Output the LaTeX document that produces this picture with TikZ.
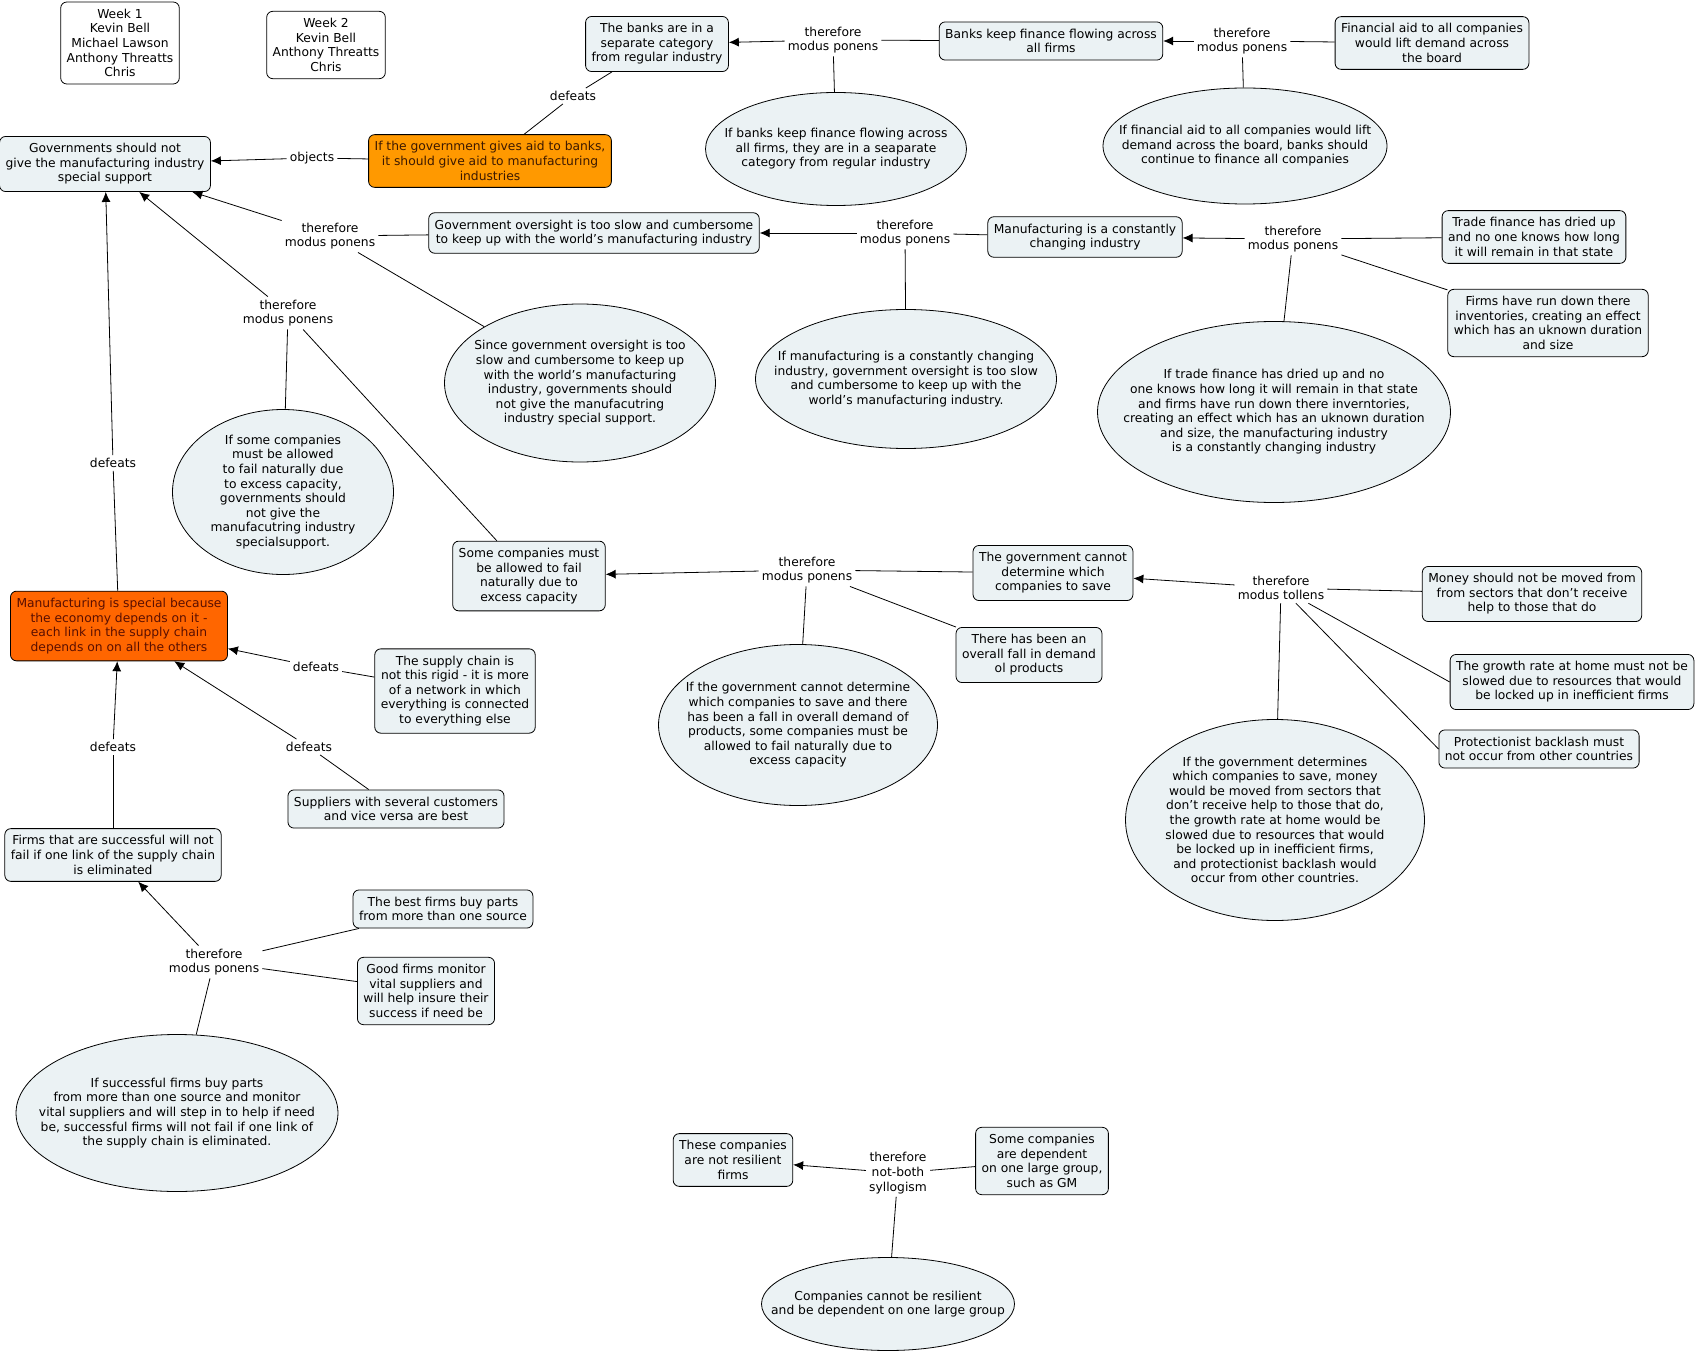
\documentclass[tikz,border=0pt]{standalone}
\usepackage{fontspec}
\setmainfont{DejaVu Sans}
\usetikzlibrary{shapes.geometric,arrows.meta}

\definecolor{boxfill}{RGB}{235,242,244}
\definecolor{aidorange}{RGB}{255,153,0}
\definecolor{hotorange}{RGB}{255,102,0}
\definecolor{aidtext}{RGB}{60,25,0}
\definecolor{hottext}{RGB}{90,15,0}

\tikzset{
	claim/.style={draw, rounded corners=6pt, fill=boxfill, align=center, inner xsep=6pt, inner ysep=7pt, line width=0.8pt},
	namebox/.style={claim, fill=white},
	reason/.style={draw, ellipse, fill=boxfill, line width=0.8pt},
	reasontext/.style={label={[align=center]center:#1}},
	link/.style={align=center, inner sep=3pt},
	infer/.style={-{Latex[length=10pt,width=9pt]}, line width=0.8pt},
	plain/.style={line width=0.8pt}
}

\begin{document}
\begin{tikzpicture}[x=1pt, y=-1pt, font=\fontsize{12.3}{14.6}\selectfont]

	\useasboundingbox (0, 0) rectangle (1698, 1351);

	\node (week1) [namebox] at (120, 43) {Week 1\\Kevin Bell\\Michael Lawson\\Anthony Threatts\\Chris};
	\node (week2) [namebox] at (326, 45) {Week 2\\Kevin Bell\\Anthony Threatts\\Chris};

	\node (banksep) [claim] at (657, 44) {The banks are in a\\separate category\\from regular industry};
	\node (mpA) [link] at (833, 40) {therefore\\modus ponens};
	\node (bankflow) [claim] at (1051, 41) {Banks keep finance flowing across\\all firms};
	\node (mpB) [link] at (1242, 41) {therefore\\modus ponens};
	\node (finaid) [claim] at (1432, 43) {Financial aid to all companies\\would lift demand across\\the board};
	\node (ebank) [reason, minimum width=261pt, minimum height=113pt, reasontext={If banks keep finance flowing across\\all firms, they are in a seaparate\\category from regular industry}] at (836, 149) {};
	\node (efin) [reason, minimum width=284pt, minimum height=116pt, reasontext={If financial aid to all companies would lift\\demand across the board, banks should\\continue to finance all companies}] at (1245, 146) {};

	\node (defA) [link] at (573, 96) {defeats};
	\node (govaid) [claim, fill=aidorange, text=aidtext] at (490, 161) {If the government gives aid to banks,\\it should give aid to manufacturing\\industries};
	\node (govnot) [claim] at (105, 164) {Governments should not\\give the manufacturing industry\\special support};
	\node (obj) [link] at (312, 158) {objects};

	\node (mpC) [link] at (330, 236) {therefore\\modus ponens};
	\node (oversight) [claim] at (594, 233) {Government oversight is too slow and cumbersome\\to keep up with the world's manufacturing industry};
	\node (mpD) [link] at (905, 233) {therefore\\modus ponens};
	\node (changing) [claim] at (1085, 237) {Manufacturing is a constantly\\changing industry};
	\node (mpE) [link] at (1293, 239) {therefore\\modus ponens};
	\node (trade) [claim] at (1534, 237) {Trade finance has dried up\\and no one knows how long\\it will remain in that state};
	\node (rundown) [claim] at (1548, 323) {Firms have run down there\\inventories, creating an effect\\which has an uknown duration\\and size};
	\node (etrade) [reason, minimum width=353pt, minimum height=181pt, reasontext={If trade finance has dried up and no\\one knows how long it will remain in that state\\and firms have run down there inverntories,\\creating an effect which has an uknown duration\\and size, the manufacturing industry\\is a constantly changing industry}] at (1274, 412) {};
	\node (echange) [reason, minimum width=301pt, minimum height=139pt, reasontext={If manufacturing is a constantly changing\\industry, government oversight is too slow\\and cumbersome to keep up with the\\world's manufacturing industry.}] at (906, 379) {};
	\node (esince) [reason, minimum width=271pt, minimum height=158pt, reasontext={Since government oversight is too\\slow and cumbersome to keep up\\with the world's manufacturing\\industry, governments should\\not give the manufacutring\\industry special support.}] at (580, 383) {};

	\node (mpF) [link] at (288, 313) {therefore\\modus ponens};
	\node (esome) [reason, minimum width=221pt, minimum height=165pt, reasontext={If some companies\\must be allowed\\to fail naturally due\\to excess capacity,\\governments should\\not give the\\manufacutring industry\\specialsupport.}] at (283, 492) {};
	\node (somefail) [claim] at (529, 576) {Some companies must\\be allowed to fail\\naturally due to\\excess capacity};
	\node (mpG) [link] at (807, 570) {therefore\\modus ponens};
	\node (cannot) [claim] at (1053, 573) {The government cannot\\determine which\\companies to save};
	\node (fall) [claim] at (1029, 655) {There has been an\\overall fall in demand\\ol products};
	\node (ecannot) [reason, minimum width=279pt, minimum height=161pt, reasontext={If the government cannot determine\\which companies to save and there\\has been a fall in overall demand of\\products, some companies must be\\allowed to fail naturally due to\\excess capacity}] at (798, 725) {};

	\node (mt) [link] at (1281, 588) {therefore\\modus tollens};
	\node (money) [claim] at (1532, 594) {Money should not be moved from\\from sectors that don't receive\\help to those that do};
	\node (growth) [claim] at (1572, 682) {The growth rate at home must not be\\slowed due to resources that would\\be locked up in inefficient firms};
	\node (protect) [claim] at (1539, 749) {Protectionist backlash must\\not occur from other countries};
	\node (edeterm) [reason, minimum width=299pt, minimum height=201pt, reasontext={If the government determines\\which companies to save, money\\would be moved from sectors that\\don't receive help to those that do,\\the growth rate at home would be\\slowed due to resources that would\\be locked up in inefficient firms,\\and protectionist backlash would\\occur from other countries.}] at (1275, 820) {};

	\node (special) [claim, fill=hotorange, text=hottext] at (119, 626) {Manufacturing is special because\\the economy depends on it -\\each link in the supply chain\\depends on on all the others};
	\node (defB) [link] at (113, 463) {defeats};
	\node (defC) [link] at (316, 667) {defeats};
	\node (chain) [claim] at (455, 691) {The supply chain is\\not this rigid - it is more\\of a network in which\\everything is connected\\to everything else};
	\node (defD) [link] at (309, 747) {defeats};
	\node (suppliers) [claim] at (396, 809) {Suppliers with several customers\\and vice versa are best};
	\node (defE) [link] at (113, 747) {defeats};
	\node (successful) [claim] at (113, 855) {Firms that are successful will not\\fail if one link of the supply chain\\is eliminated};

	\node (mpH) [link] at (214, 962) {therefore\\modus ponens};
	\node (bestfirms) [claim] at (443, 909) {The best firms buy parts\\from more than one source};
	\node (goodfirms) [claim] at (426, 991) {Good firms monitor\\vital suppliers and\\will help insure their\\success if need be};
	\node (esucc) [reason, minimum width=322pt, minimum height=157pt, reasontext={If successful firms buy parts\\from more than one source and monitor\\vital suppliers and will step in to help if need\\be, successful firms will not fail if one link of\\the supply chain is eliminated.}] at (177, 1113) {};

	\node (notres) [claim] at (733, 1160) {These companies\\are not resilient\\firms};
	\node (nb) [link] at (898, 1173) {therefore\\not-both\\syllogism};
	\node (dependent) [claim] at (1042, 1161) {Some companies\\are dependent\\on one large group,\\such as GM};
	\node (eresil) [reason, minimum width=253pt, minimum height=93pt, reasontext={Companies cannot be resilient\\and be dependent on one large group}] at (888, 1304) {};

	\path[plain]
	(bankflow) edge (mpA)
	(mpA) edge (ebank)
	(finaid) edge (mpB)
	(mpB) edge (efin)
	(banksep) edge (defA)
	(defA) edge (govaid)
	(govaid) edge (obj)
	(oversight) edge (mpC)
	(mpC) edge (esince)
	(changing) edge (mpD)
	(mpD) edge (echange)
	(trade) edge (mpE)
	(rundown) edge (mpE)
	(mpE) edge (etrade)
	(somefail) edge (mpF)
	(esome) edge (mpF)
	(cannot) edge (mpG)
	(fall) edge (mpG)
	(ecannot) edge (mpG)
	(money) edge (mt)
	(growth.west) edge (mt)
	(protect.west) edge (mt)
	(edeterm) edge (mt)
	(special) edge (defB)
	(chain) edge (defC)
	(suppliers) edge (defD)
	(successful) edge (defE)
	(bestfirms) edge (mpH)
	(goodfirms) edge (mpH)
	(esucc) edge (mpH)
	(dependent) edge (nb)
	(eresil) edge (nb);

	\path[infer]
	(mpA) edge (banksep)
	(mpB) edge (bankflow)
	(obj) edge (govnot)
	(mpC) edge (govnot)
	(mpD) edge (oversight)
	(mpE) edge (changing)
	(mpF) edge (govnot)
	(mpG) edge (somefail)
	(mt) edge (cannot)
	(defB) edge (govnot)
	(defC) edge (special)
	(defD) edge (special)
	(defE) edge (special)
	(mpH) edge (successful)
	(nb) edge (notres);

\end{tikzpicture}
\end{document}
